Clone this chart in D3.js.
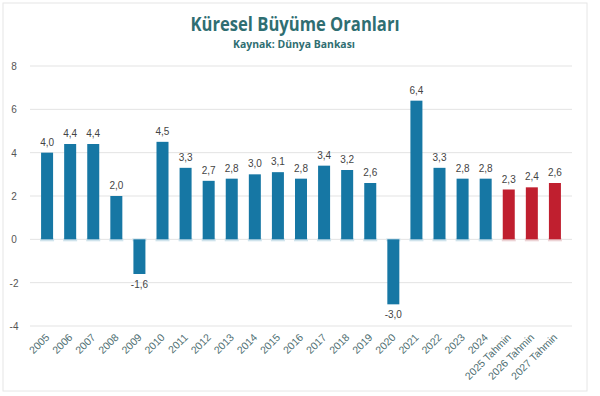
<!DOCTYPE html>
<html>
  <head>
    <style>
      body { margin: 0; background: #fff; }
      svg { display: block; font-family: "Liberation Sans", Arial, sans-serif; }
      .grid line { stroke: #e3e3e3; stroke-width: 1px; }
    </style>
  </head>
  <body>
    <script src="https://d3js.org/d3.v7.min.js"></script>
    <script>
      const years = ["2005","2006","2007","2008","2009","2010","2011","2012","2013","2014","2015","2016",
          "2017","2018","2019","2020","2021","2022","2023","2024","2025 Tahmin","2026 Tahmin","2027 Tahmin"];
      const growth = [4.0,4.4,4.4,2.0,-1.6,4.5,3.3,2.7,2.8,3.0,3.1,2.8,3.4,3.2,2.6,-3.0,6.4,3.3,2.8,2.8,2.3,2.4,2.6];
      const forecast = [false,false,false,false,false,false,false,false,false,false,false,false,
          false,false,false,false,false,false,false,false,true,true,true];
      const yTicks = [-4,-2,0,2,4,6,8];

      const width = 600, height = 396;
      const margin = {left: 30, right: 28, top: 66, bottom: 70};

      const svg = d3.select("body").append("svg")
          .attr("width", width)
          .attr("height", height);

      svg.append("rect")
          .attr("x", 3).attr("y", 3)
          .attr("width", 584).attr("height", 388)
          .attr("fill", "#fff")
          .attr("stroke", "#e6e6e6");

      svg.append("text")
          .attr("x", 295).attr("y", 31)
          .attr("text-anchor", "middle")
          .attr("fill", "#2f6e72")
          .attr("font-family", "'Open Sans', sans-serif")
          .attr("font-size", 20).attr("font-weight", "bold")
          .attr("textLength", 209)
          .attr("lengthAdjust", "spacingAndGlyphs")
          .text("Küresel Büyüme Oranları");

      svg.append("text")
          .attr("x", 294).attr("y", 48)
          .attr("text-anchor", "middle")
          .attr("fill", "#2f6e72")
          .attr("font-family", "'Open Sans', sans-serif")
          .attr("font-size", 11).attr("font-weight", "bold")
          .attr("textLength", 122)
          .attr("lengthAdjust", "spacingAndGlyphs")
          .text("Kaynak: Dünya Bankası");

      const x = d3.scaleBand()
          .domain(years)
          .range([margin.left, width - margin.right])
          .padding(0.48);

      const y = d3.scaleLinear()
          .domain([-4, 8])
          .range([height - margin.bottom, margin.top]);

      const grid = svg.append("g").attr("class", "grid");
      grid.selectAll("line")
          .data(yTicks)
          .join("line")
          .attr("x1", margin.left).attr("x2", width - margin.right)
          .attr("y1", d => y(d)).attr("y2", d => y(d));

      svg.append("g")
          .selectAll("text")
          .data(yTicks)
          .join("text")
          .attr("x", 14).attr("y", d => y(d) + 4)
          .attr("text-anchor", "middle")
          .attr("fill", "#555")
          .attr("font-size", 10)
          .text(d => d);

      const data = years.map((d, i) => ({year: d, value: growth[i], est: forecast[i]}));

      // faint shadow stubs on the zero line
      svg.append("g")
          .selectAll("rect")
          .data(data)
          .join("rect")
          .attr("x", d => x(d.year) - 1)
          .attr("y", y(0) - 1)
          .attr("width", x.bandwidth() + 2)
          .attr("height", 3)
          .attr("fill", d => d.est ? "#ecd3d5" : "#cfe3ec");

      svg.append("g")
          .selectAll("rect")
          .data(data)
          .join("rect")
          .attr("x", d => x(d.year))
          .attr("y", d => y(Math.max(0, d.value)))
          .attr("width", x.bandwidth())
          .attr("height", d => Math.abs(y(d.value) - y(0)))
          .attr("fill", d => d.est ? "#c01f2f" : "#1677a4");

      svg.append("g")
          .selectAll("text")
          .data(data)
          .join("text")
          .attr("x", d => x(d.year) + x.bandwidth() / 2)
          .attr("y", d => d.value >= 0 ? y(d.value) - 7 : y(d.value) + 14)
          .attr("text-anchor", "middle")
          .attr("fill", "#444")
          .attr("font-size", 10)
          .text(d => d.value.toFixed(1).replace(".", ","));

      svg.append("g")
          .selectAll("text")
          .data(data)
          .join("text")
          .attr("transform", d => `translate(${x(d.year) + x.bandwidth() / 2 + 3},${y(-4) + 12}) rotate(-45)`)
          .attr("text-anchor", "end")
          .attr("fill", "#4f6f72")
          .attr("font-size", 10.5)
          .text(d => d.year);
    </script>
  </body>
</html>
